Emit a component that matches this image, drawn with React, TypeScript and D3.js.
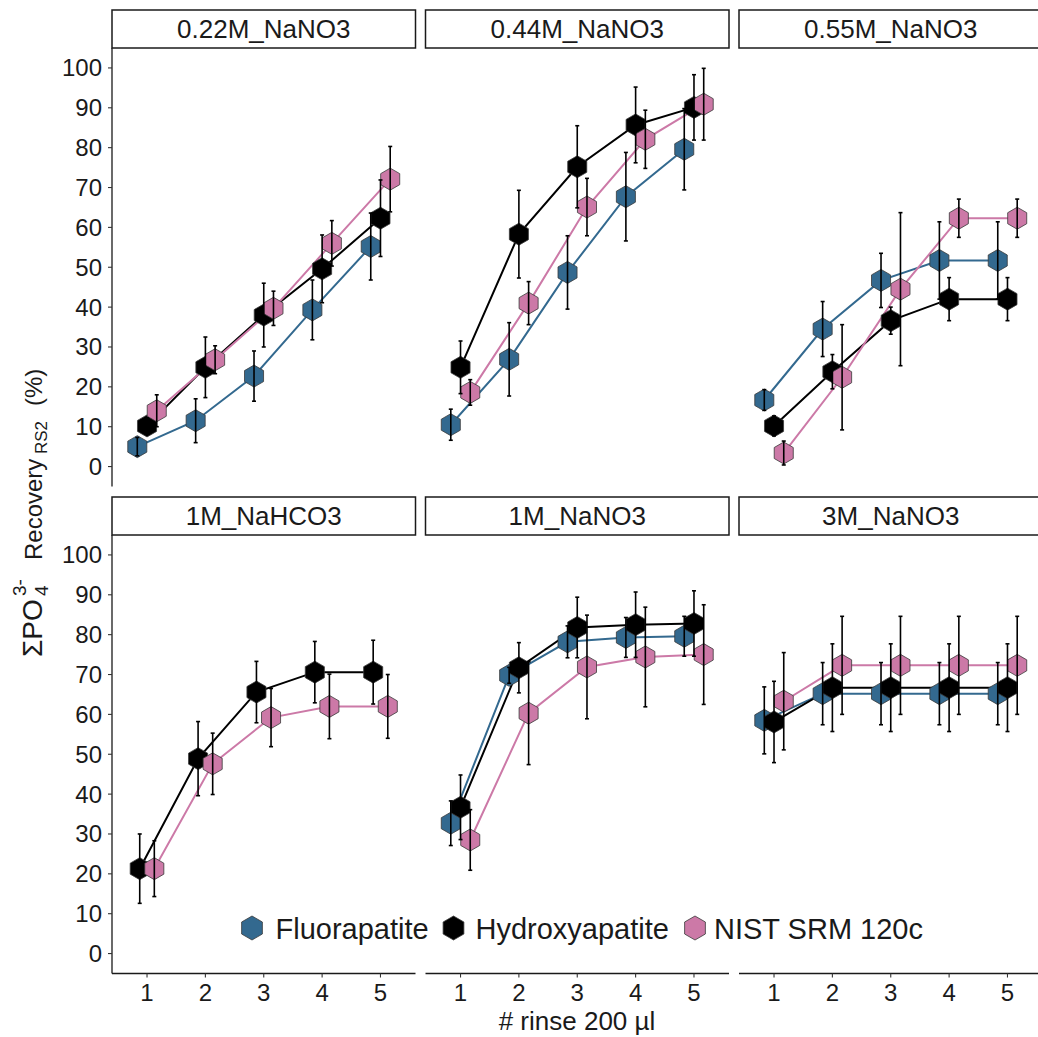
import React from "react";
import * as d3 from "d3";

// ---------- data ----------
const rinses = [1, 2, 3, 4, 5];
const panelNames = ["0.22M_NaNO3", "0.44M_NaNO3", "0.55M_NaNO3", "1M_NaHCO3", "1M_NaNO3", "3M_NaNO3"];
const seriesNames = ["Fluorapatite", "Hydroxyapatite", "NIST SRM 120c"];
const seriesColors = ["#33698F", "#000000", "#CC79A7"];
const yTicks = [0, 10, 20, 30, 40, 50, 60, 70, 80, 90, 100];

const fluorMean = [
  [5.0, 11.5, 22.7, 39.3, 55.2],
  [10.5, 26.9, 48.7, 67.7, 79.6],
  [16.7, 34.5, 46.7, 51.7, 51.7],
  null,
  [32.7, 69.8, 78.2, 79.3, 79.6],
  [58.5, 65.2, 65.2, 65.2, 65.2],
];
const fluorSd = [
  [2.3, 5.5, 6.3, 7.5, 8.4],
  [3.9, 9.2, 9.2, 11.1, 10.2],
  [2.6, 6.9, 6.8, 9.7, 9.7],
  null,
  [5.6, 2.0, 4.0, 5.0, 5.0],
  [8.4, 7.8, 7.8, 7.8, 7.8],
];
const hydroxyMean = [
  [10.2, 24.9, 38.0, 49.6, 62.3],
  [24.9, 58.3, 75.2, 85.7, 90.1],
  [10.2, 23.8, 36.6, 42.0, 42.0],
  [21.3, 48.9, 65.6, 70.6, 70.6],
  [36.7, 71.7, 81.8, 82.5, 82.8],
  [58.1, 66.7, 66.7, 66.7, 66.7],
];
const hydroxySd = [
  [2.0, 7.6, 8.0, 8.5, 9.6],
  [6.6, 11.0, 10.3, 9.5, 8.2],
  [2.5, 4.3, 3.4, 5.4, 5.4],
  [8.7, 9.3, 7.7, 7.7, 8.0],
  [8.1, 6.3, 7.6, 8.2, 8.2],
  [10.2, 11.0, 11.0, 11.0, 11.0],
];
const nistMean = [
  [14.0, 26.8, 39.7, 56.0, 72.1],
  [18.6, 41.0, 65.1, 82.1, 90.9],
  [3.4, 22.4, 44.5, 62.3, 62.3],
  [21.3, 47.6, 59.2, 62.0, 62.0],
  [28.5, 60.3, 71.9, 74.4, 75.0],
  [63.3, 72.3, 72.3, 72.3, 72.3],
];
const nistSd = [
  [4.0, 3.5, 4.3, 5.7, 8.2],
  [3.2, 5.4, 7.2, 7.3, 9.0],
  [3.0, 13.2, 19.2, 4.8, 4.8],
  [7.0, 7.7, 7.3, 8.1, 8.0],
  [7.6, 12.9, 13.0, 12.5, 12.5],
  [12.2, 12.3, 12.3, 12.3, 12.3],
];

const allMeans = [fluorMean, hydroxyMean, nistMean];
const allSds = [fluorSd, hydroxySd, nistSd];

// ---------- layout ----------
const W = 1038;
const H = 1037;
const FONT = "'Liberation Sans', Arial, sans-serif";
const colLefts = [112, 425.5, 739];
const panelW = 303.5;
const rowTops = [48, 535];
const panelH = 438.5;
const stripH = 38;
const dodgeWidth = 0.5;
const hexR = 11;

function hexPath(cx: number, cy: number, r: number) {
  const pts = d3.range(6).map((i) => {
    const a = (Math.PI / 3) * i - Math.PI / 2;
    return [cx + r * Math.cos(a), cy + r * Math.sin(a)];
  });
  return "M" + pts.map((p) => p[0].toFixed(2) + "," + p[1].toFixed(2)).join("L") + "Z";
}

function Panel({ idx }: { idx: number }) {
  const col = idx % 3;
  const row = Math.floor(idx / 3);
  const x0 = colLefts[col];
  const y0 = rowTops[row];
  const x = d3.scaleLinear().domain([0.4, 5.6]).range([x0, x0 + panelW]);
  const y = d3.scaleLinear().domain([-5, 105]).range([y0 + panelH, y0]);
  const present = [0, 1, 2].filter((s) => allMeans[s][idx] !== null);
  const n = present.length;
  const offsets: Record<number, number> = {};
  present.forEach((s, i) => {
    offsets[s] = (i - (n - 1) / 2) * (dodgeWidth / n);
  });
  const line = d3
    .line<[number, number]>()
    .x((d) => x(d[0]))
    .y((d) => y(d[1]));

  return (
    <g>
      {/* strip */}
      <rect x={x0} y={y0 - stripH} width={panelW} height={stripH} fill="#fff" stroke="#1a1a1a" strokeWidth={1.5} />
      <text x={x0 + panelW / 2} y={y0 - stripH / 2 + 9} textAnchor="middle" fontSize={26} fontFamily={FONT} fill="#1a1a1a">
        {panelNames[idx]}
      </text>
      {/* axes */}
      {col === 0 && (
        <g>
          <line x1={x0} x2={x0} y1={y0} y2={y0 + panelH} stroke="#1a1a1a" strokeWidth={1.3} />
          {yTicks.map((t) => (
            <g key={t}>
              <line x1={x0 - 4} x2={x0} y1={y(t)} y2={y(t)} stroke="#333" strokeWidth={1.1} />
              <text x={x0 - 10} y={y(t) + 8.5} textAnchor="end" fontSize={24} fontFamily={FONT} fill="#1a1a1a">
                {t}
              </text>
            </g>
          ))}
        </g>
      )}
      {row === 1 && (
        <g>
          <line x1={x0} x2={x0 + panelW} y1={y0 + panelH} y2={y0 + panelH} stroke="#1a1a1a" strokeWidth={1.3} />
          {rinses.map((t) => (
            <g key={t}>
              <line x1={x(t)} x2={x(t)} y1={y0 + panelH} y2={y0 + panelH + 4} stroke="#333" strokeWidth={1.1} />
              <text x={x(t)} y={y0 + panelH + 27.5} textAnchor="middle" fontSize={24} fontFamily={FONT} fill="#1a1a1a">
                {t}
              </text>
            </g>
          ))}
        </g>
      )}
      {/* lines */}
      {present.map((s) => {
        const pts = rinses.map((r, i) => [r + offsets[s], (allMeans[s][idx] as number[])[i]] as [number, number]);
        return <path key={"l" + s} d={line(pts) || ""} fill="none" stroke={seriesColors[s]} strokeWidth={2} />;
      })}
      {/* points */}
      {present.map((s) =>
        rinses.map((r, i) => (
          <path
            key={"p" + s + i}
            d={hexPath(x(r + offsets[s]), y((allMeans[s][idx] as number[])[i]), hexR)}
            fill={seriesColors[s]}
            stroke="#3a3a3a"
            strokeWidth={0.8}
          />
        ))
      )}
      {/* error bars */}
      {present.map((s) =>
        rinses.map((r, i) => {
          const m = (allMeans[s][idx] as number[])[i];
          const sd = (allSds[s][idx] as number[])[i];
          const cx = x(r + offsets[s]);
          const ya = y(m + sd);
          const yb = y(m - sd);
          return (
            <g key={"e" + s + i} stroke="#000" strokeWidth={1.6}>
              <line x1={cx} x2={cx} y1={ya} y2={yb} />
              <line x1={cx - 2} x2={cx + 2} y1={ya} y2={ya} />
              <line x1={cx - 2} x2={cx + 2} y1={yb} y2={yb} />
            </g>
          );
        })
      )}
    </g>
  );
}

export default function App() {
  const legendHex = [252, 453.5, 695];
  const legendText = [275.5, 475.5, 714];
  return (
    <svg width={W} height={H} style={{ display: "block", position: "absolute", left: 0, top: 0, background: "#fff" }}>
      <rect x={0} y={0} width={W} height={H} fill="#fff" />
      {panelNames.map((_, i) => (
        <Panel key={i} idx={i} />
      ))}
      {/* y title */}
      <g transform="translate(42,510) rotate(-90)" fontFamily={FONT} fill="#1a1a1a">
        <text x={-147} y={0} fontSize={28}>ΣPO</text>
        <text x={-86} y={6} fontSize={19}>4</text>
        <text x={-86} y={-16} fontSize={19}>3-</text>
        <text x={-50} y={0} fontSize={24}>Recovery</text>
        <text x={56} y={5} fontSize={17}>RS2</text>
        <text x={104} y={0} fontSize={24}>(%)</text>
      </g>
      {/* x title */}
      <text x={577} y={1030} textAnchor="middle" fontSize={26} fontFamily={FONT} fill="#1a1a1a">
        # rinse 200 µl
      </text>
      {/* legend */}
      {seriesNames.map((nm, i) => (
        <g key={nm}>
          <path d={hexPath(legendHex[i], 928, 12)} fill={seriesColors[i]} stroke="#3a3a3a" strokeWidth={0.8} />
          <text x={legendText[i]} y={938.5} fontSize={29} fontFamily={FONT} fill="#1a1a1a">
            {nm}
          </text>
        </g>
      ))}
    </svg>
  );
}
